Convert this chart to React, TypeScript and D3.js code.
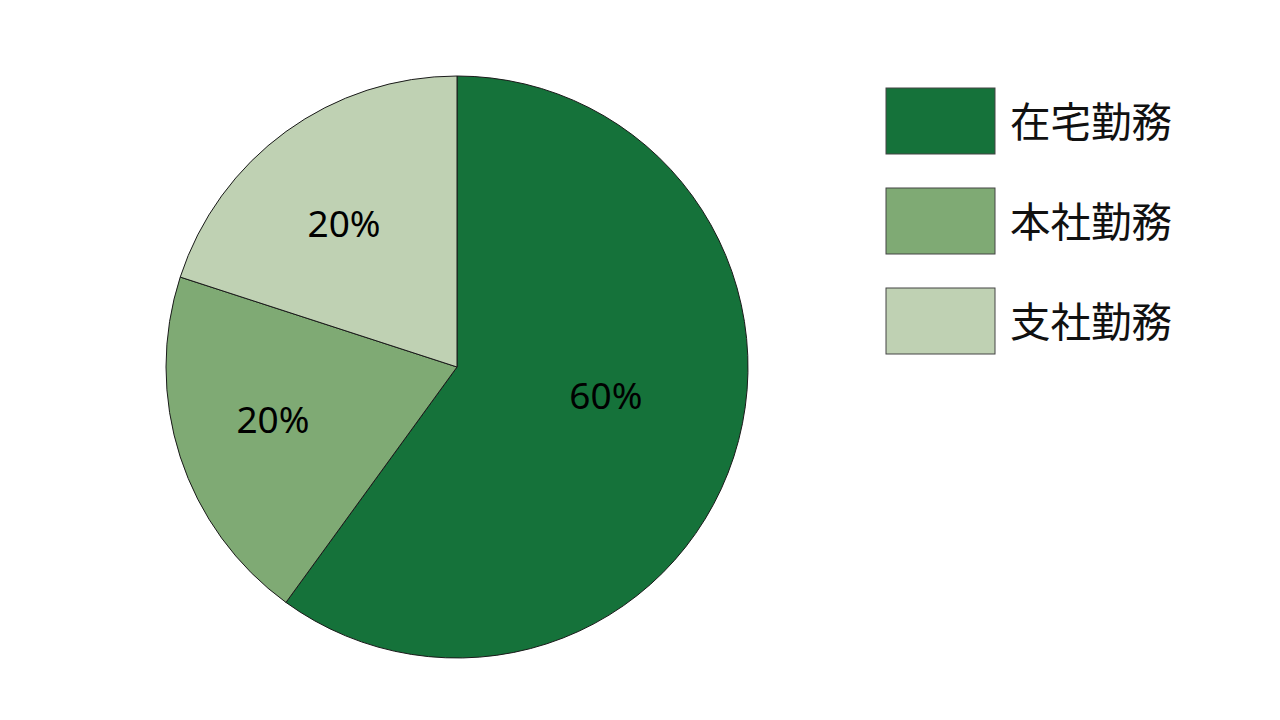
import React from "react";
import * as d3 from "d3";

const categories = ["在宅勤務", "本社勤務", "支社勤務"];
const values = [60, 20, 20];
const labels = ["60%", "20%", "20%"];
const colors = ["#15723A", "#7FAA74", "#BFD1B3"];

export default function App() {
  const width = 1280;
  const height = 720;
  const cx = 457;
  const cy = 367;
  const r = 291;
  const labelRadiusFactor = [0.522, 0.66, 0.621];
  const labelAngleShiftDeg = [-6.6, 1.4, -2.7];
  const pie = d3.pie<number>().sort(null).value((d) => d);
  const arcs = pie(values);
  const arc = d3.arc<d3.PieArcDatum<number>>().innerRadius(0).outerRadius(r);
  const font = "'Noto Sans CJK JP', 'Noto Sans', sans-serif";
  return (
    <svg width={width} height={height} style={{ position: "absolute", left: 0, top: 0, background: "#fff" }}>
      <g transform={`translate(${cx},${cy})`}>
        {arcs.map((a, i) => (
          <path key={i} d={arc(a) || ""} fill={colors[i]} stroke="#1a1a1a" strokeWidth={1} />
        ))}
        {arcs.map((a, i) => {
          const mid = (a.startAngle + a.endAngle) / 2 + (labelAngleShiftDeg[i] * Math.PI) / 180;
          const lr = r * labelRadiusFactor[i];
          const x = Math.sin(mid) * lr;
          const y = -Math.cos(mid) * lr - 3;
          return (
            <text key={i} x={x} y={y} textAnchor="middle" dominantBaseline="central" fontFamily="'Noto Sans', sans-serif" fontSize={37} fill="#000">
              {labels[i]}
            </text>
          );
        })}
      </g>
      {categories.map((c, i) => (
        <g key={c} transform={`translate(886,${88 + i * 100})`}>
          <rect x={0} y={0} width={109} height={66} fill={colors[i]} stroke="#444" strokeWidth={1} />
          <text x={124} y={31} dominantBaseline="central" fontFamily={font} fontSize={40.5} fill="#111">
            {c}
          </text>
        </g>
      ))}
    </svg>
  );
}
